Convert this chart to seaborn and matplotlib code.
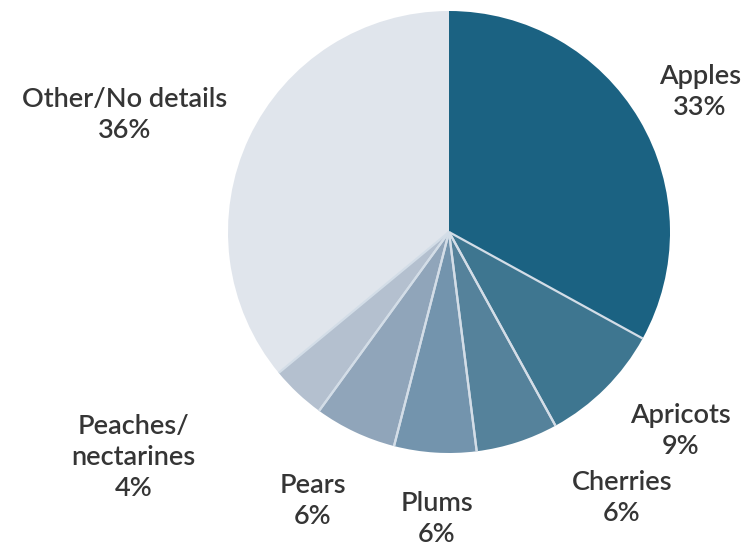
import numpy as np
import matplotlib.pyplot as plt
import seaborn as sns

sns.set_theme(style="white")
plt.rcParams["font.family"] = ["Lato", "DejaVu Sans"]

# data
fruits = ["Apples", "Apricots", "Cherries", "Plums", "Pears",
          "Peaches/\nnectarines", "Other/No details"]
shares = [33, 9, 6, 6, 6, 4, 36]
colors = ["#1b6282", "#3e7690", "#55829b", "#7394ad", "#90a5ba",
          "#b4c0cf", "#e0e5ec"]

# label placement relative to each wedge (angle tweak in degrees, radius)
label_shift = [-1.4, 4.3, 15, 1.2, -1.6, -11.3, 5.4]
label_rad = [1.30, 1.38, 1.435, 1.30, 1.365, 1.755, 1.56]


def main():
    fig = plt.figure(figsize=(7.44, 5.47), dpi=100)
    ax = fig.add_axes([0, 0, 1, 1])
    wedges, _ = ax.pie(shares, colors=colors, startangle=90, counterclock=False,
                       radius=1, wedgeprops=dict(linewidth=0))
    # thin light separators between slices (no outer outline)
    for w in wedges[1:-1]:
        for t in (w.theta1, w.theta2):
            a = np.deg2rad(t)
            ax.plot([0, np.cos(a)], [0, np.sin(a)], color="#d3dde7", lw=1.6,
                    solid_capstyle="butt")
    for w, name, pct, da, r in zip(wedges, fruits, shares, label_shift, label_rad):
        ang = np.deg2rad((w.theta1 + w.theta2) / 2 + da)
        ax.text(r * np.cos(ang), r * np.sin(ang), f"{name}\n{pct}%",
                ha="center", va="center", fontsize=19.5, color="#353535",
                fontweight="semibold", linespacing=1.3)
    ax.set_aspect("auto")
    ax.set_xlim(-449 / 221, 295 / 221)
    ax.set_ylim(-315 / 221, 232 / 221)
    ax.axis("off")
    fig.savefig("out.png", dpi=100)
    plt.close(fig)


if __name__ == "__main__":
    main()
